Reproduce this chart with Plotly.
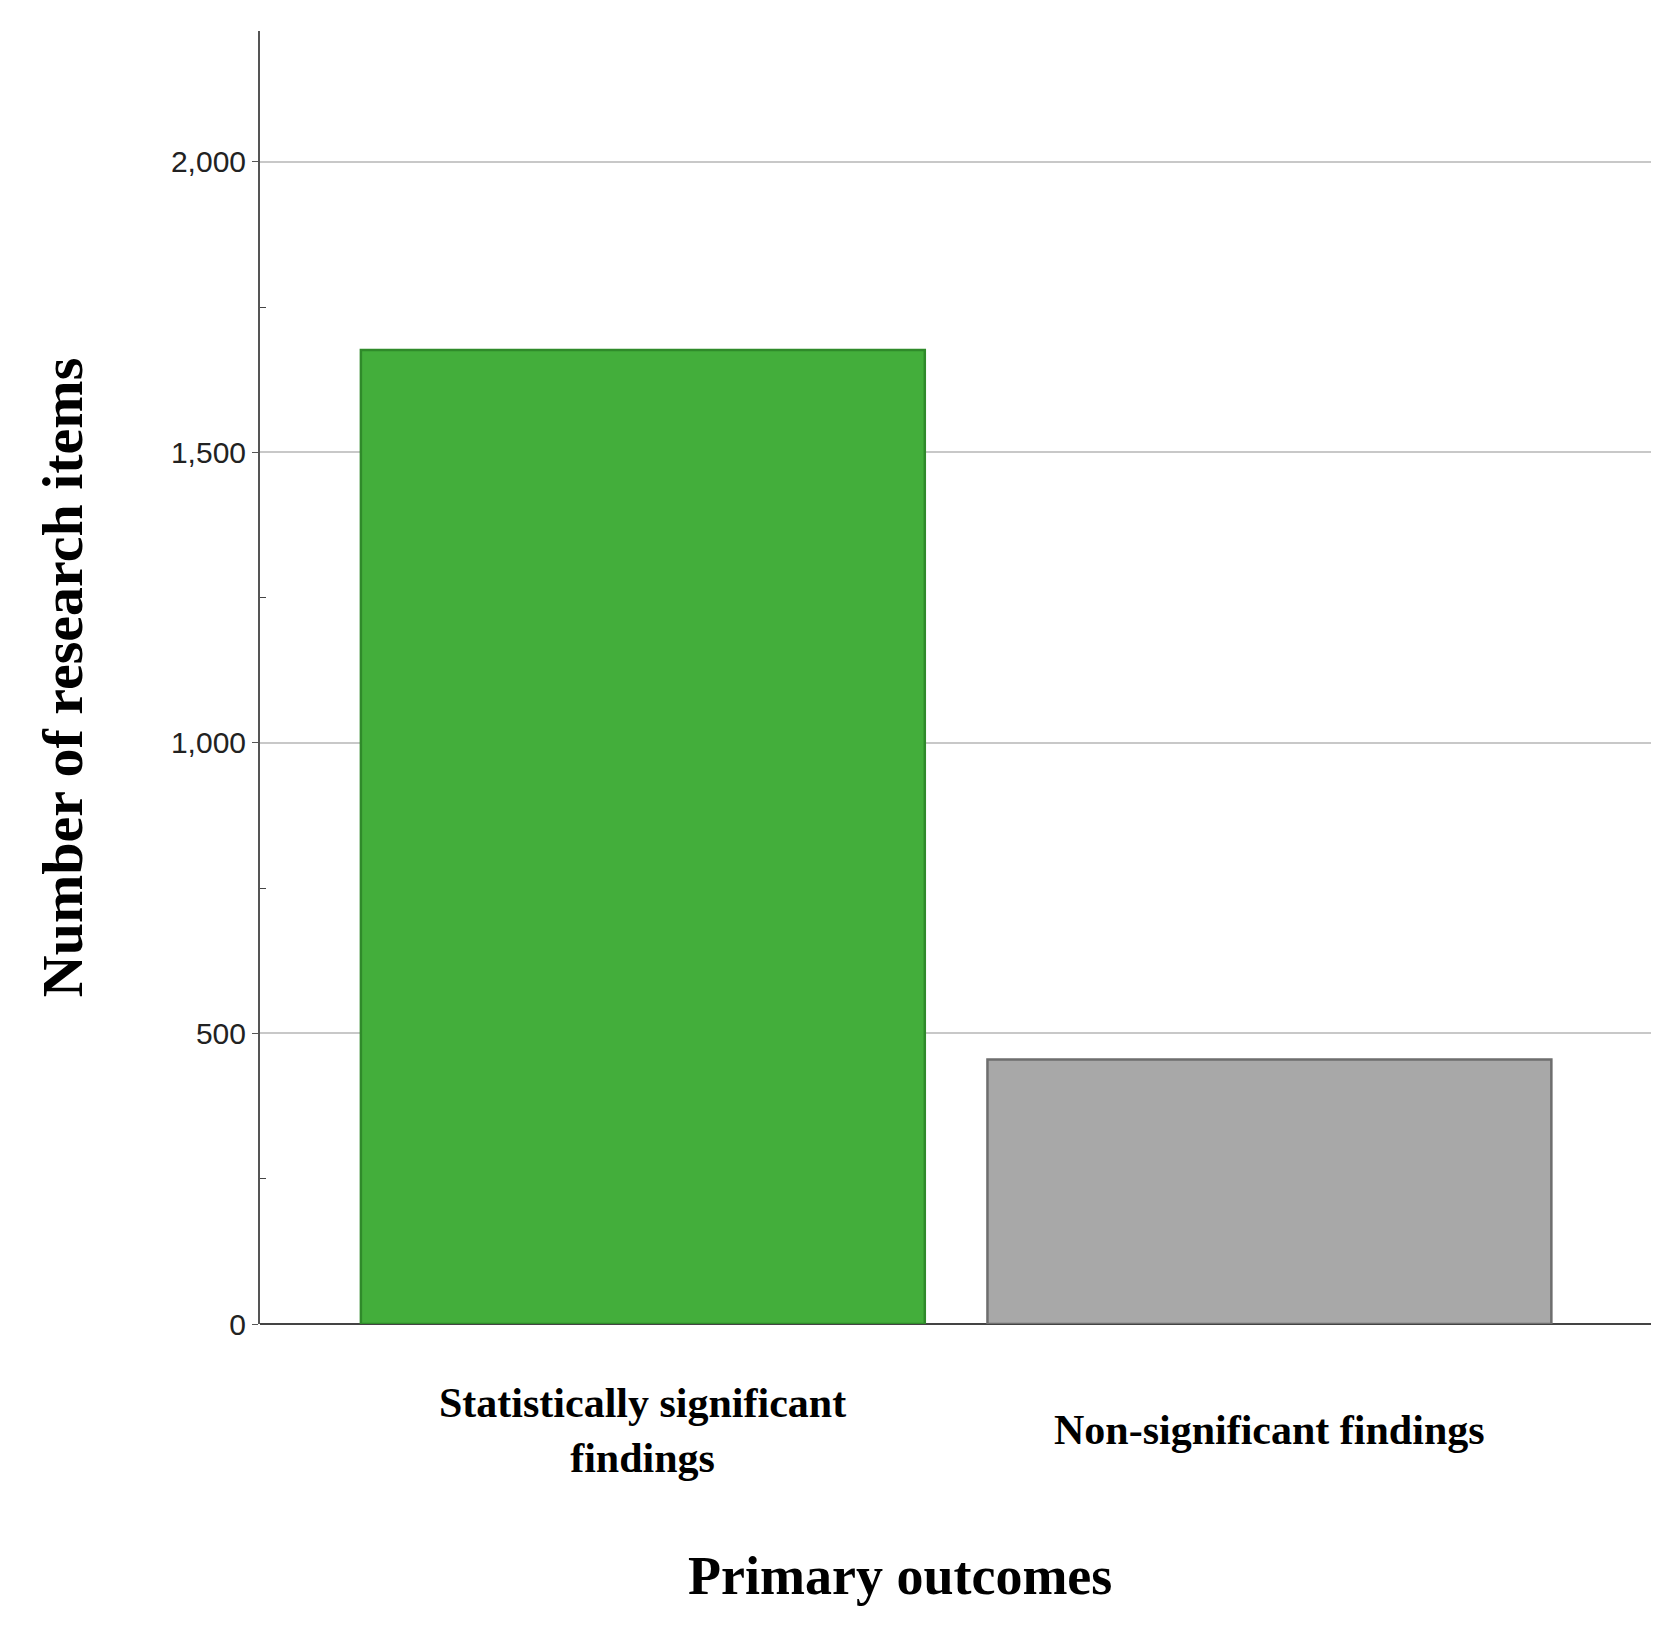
import plotly.graph_objects as go

categories = ["Statistically significant<br>findings", "Non-significant findings"]
counts = [1676, 455]
fill_colors = ["#43ae3b", "#a8a8a8"]
line_colors = ["#2f8a2a", "#6e6e6e"]
y_ticks = [0, 500, 1000, 1500, 2000]
y_tick_labels = ["0", "500", "1,000", "1,500", "2,000"]

fig = go.Figure()
fig.add_trace(go.Bar(
    x=[0, 1], y=counts, width=0.9,
    marker=dict(color=fill_colors, line=dict(color=line_colors, width=2.5)),
))

serif = "Liberation Serif"
fig.update_layout(
    width=1661, height=1634,
    margin=dict(l=252, r=18, t=23, b=318),
    plot_bgcolor="white", paper_bgcolor="white",
    showlegend=False,
    xaxis=dict(range=[-0.611, 1.609], showticklabels=False, showgrid=False,
               zeroline=False, showline=False, fixedrange=True),
    yaxis=dict(range=[0, 2225], tickvals=y_ticks, ticktext=y_tick_labels,
               tickfont=dict(family="Liberation Sans", size=30, color="#222"),
               showgrid=True, gridcolor="#c8c8c8", gridwidth=2,
               zeroline=True, zerolinecolor="#444", zerolinewidth=2,
               showline=True, linecolor="#555", linewidth=2,
               ticks="outside", ticklen=6, tickcolor="#555",
               minor=dict(tickvals=[250, 750, 1250, 1750], ticks="inside",
                          ticklen=6, tickcolor="#444"),
               title=dict(text="<b>Number of research items</b>",
                          font=dict(family=serif, size=58, color="black"),
                          standoff=70)),
)

for i, cat in enumerate(categories):
    fig.add_annotation(x=i, y=-0.082, xref="x", yref="paper", text="<b>" + cat + "</b>",
                       showarrow=False, yanchor="middle",
                       font=dict(family=serif, size=42, color="black"))

fig.add_annotation(x=0.46, y=-0.195, xref="paper", yref="paper",
                   text="<b>Primary outcomes</b>", showarrow=False, yanchor="middle",
                   font=dict(family=serif, size=54, color="black"))

fig.write_html("out.html")
